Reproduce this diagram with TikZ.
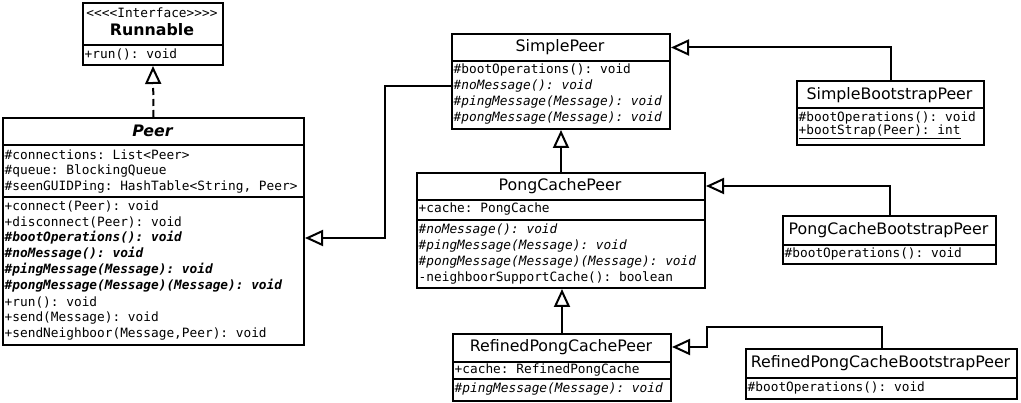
\documentclass[tikz,border=0pt]{standalone}
\usepackage{fontspec}
\setmainfont{DejaVu Sans}
\newfontfamily\umlmono{DejaVu Sans Mono}
\usetikzlibrary{arrows.meta,positioning,calc}

\tikzset{
	classbox/.style={draw,line width=2pt,anchor=north west,inner sep=0pt,fill=white},
	classname/.style={inner sep=0pt,font=\fontsize{15.8}{18}\selectfont},
	member/.style={anchor=west,inner sep=0pt,font=\umlmono\fontsize{12.8}{16}\selectfont},
	divider/.style={line width=2pt},
	inherit/.style={line width=2pt,-{Triangle[open,length=18pt,width=16pt,line width=2pt]}},
	realize/.style={inherit,dash pattern=on 7pt off 4pt}
}

\begin{document}
\begin{tikzpicture}[x=1pt,y=-1pt]
		\useasboundingbox (0,0) rectangle (1021,403);
		% Runnable
		\node[classbox,minimum width=140pt,minimum height=62pt] (runnable) at (82,2) {};
		\node[member,anchor=center] (rnst) at (152,13) {<<<<Interface>>>>};
		\node[classname,font=\fontsize{15.8}{18}\selectfont\bfseries] (rntitle) at (152,30) {Runnable};
		\draw[divider] (runnable.west |- 0,45) -- (runnable.east |- 0,45);
		\node[member] (rn1) at (84.5,54) {+run():\ void};
		% Peer
		\node[classbox,minimum width=301pt,minimum height=227pt] (peer) at (2,117) {};
		\node[classname,font=\fontsize{15.8}{18}\selectfont\bfseries\itshape] (petitle) at (152.5,131) {Peer};
		\draw[divider] (peer.west |- 0,145) -- (peer.east |- 0,145);
		\node[member] (pe1) at (4.5,155) {\#connections:\ List<Peer>};
		\node[member] (pe2) at (4.5,171) {\#queue:\ BlockingQueue};
		\node[member] (pe3) at (4.5,187) {\#seenGUIDPing:\ HashTable<String,\ Peer>};
		\draw[divider] (peer.west |- 0,197) -- (peer.east |- 0,197);
		\node[member] (pe4) at (4.5,206) {+connect(Peer):\ void};
		\node[member] (pe5) at (4.5,222) {+disconnect(Peer):\ void};
		\node[member,font=\umlmono\fontsize{12.8}{16}\selectfont\bfseries\itshape] (pe6) at (4.5,238) {\#bootOperations():\ void};
		\node[member,font=\umlmono\fontsize{12.8}{16}\selectfont\bfseries\itshape] (pe7) at (4.5,254) {\#noMessage():\ void};
		\node[member,font=\umlmono\fontsize{12.8}{16}\selectfont\bfseries\itshape] (pe8) at (4.5,270) {\#pingMessage(Message):\ void};
		\node[member,font=\umlmono\fontsize{12.8}{16}\selectfont\bfseries\itshape] (pe9) at (4.5,286) {\#pongMessage(Message)(Message):\ void};
		\node[member] (pe10) at (4.5,302) {+run():\ void};
		\node[member] (pe11) at (4.5,318) {+send(Message):\ void};
		\node[member] (pe12) at (4.5,334) {+sendNeighboor(Message,Peer):\ void};
		% SimplePeer
		\node[classbox,minimum width=218pt,minimum height=95pt] (simple) at (451,33) {};
		\node[classname] (sptitle) at (560,47.5) {SimplePeer};
		\draw[divider] (simple.west |- 0,61) -- (simple.east |- 0,61);
		\node[member] (sp1) at (453.5,70) {\#bootOperations():\ void};
		\node[member,font=\umlmono\fontsize{12.8}{16}\selectfont\itshape] (sp2) at (453.5,86.5) {\#noMessage():\ void};
		\node[member,font=\umlmono\fontsize{12.8}{16}\selectfont\itshape] (sp3) at (453.5,102.5) {\#pingMessage(Message):\ void};
		\node[member,font=\umlmono\fontsize{12.8}{16}\selectfont\itshape] (sp4) at (453.5,118.5) {\#pongMessage(Message):\ void};
		% PongCachePeer
		\node[classbox,minimum width=288pt,minimum height=115pt] (pongcache) at (416,172) {};
		\node[classname] (pctitle) at (560,186) {PongCachePeer};
		\draw[divider] (pongcache.west |- 0,200) -- (pongcache.east |- 0,200);
		\node[member] (pc1) at (418.5,209.5) {+cache:\ PongCache};
		\draw[divider] (pongcache.west |- 0,220) -- (pongcache.east |- 0,220);
		\node[member,font=\umlmono\fontsize{12.8}{16}\selectfont\itshape] (pc2) at (418.5,230) {\#noMessage():\ void};
		\node[member,font=\umlmono\fontsize{12.8}{16}\selectfont\itshape] (pc3) at (418.5,246) {\#pingMessage(Message):\ void};
		\node[member,font=\umlmono\fontsize{12.8}{16}\selectfont\itshape] (pc4) at (418.5,262) {\#pongMessage(Message)(Message):\ void};
		\node[member] (pc5) at (418.5,278) {-neighboorSupportCache():\ boolean};
		% RefinedPongCachePeer
		\node[classbox,minimum width=218pt,minimum height=67pt] (refined) at (452,333) {};
		\node[classname] (rftitle) at (561,347) {RefinedPongCachePeer};
		\draw[divider] (refined.west |- 0,362) -- (refined.east |- 0,362);
		\node[member] (rf1) at (454.5,370.5) {+cache:\ RefinedPongCache};
		\draw[divider] (refined.west |- 0,379.5) -- (refined.east |- 0,379.5);
		\node[member,font=\umlmono\fontsize{12.8}{16}\selectfont\itshape] (rf2) at (454.5,389.5) {\#pingMessage(Message):\ void};
		% SimpleBootstrapPeer
		\node[classbox,minimum width=187pt,minimum height=64pt] (simpleboot) at (796,80) {};
		\node[classname] (sbtitle) at (889.5,95) {SimpleBootstrapPeer};
		\draw[divider] (simpleboot.west |- 0,108) -- (simpleboot.east |- 0,108);
		\node[member] (sb1) at (798.5,118) {\#bootOperations():\ void};
		\node[member] (sb2) at (798.5,131.5) {\underline{+bootStrap(Peer):\ int}};
		% PongCacheBootstrapPeer
		\node[classbox,minimum width=213pt,minimum height=48pt] (pongboot) at (782,215) {};
		\node[classname] (pbtitle) at (888.5,230) {PongCacheBootstrapPeer};
		\draw[divider] (pongboot.west |- 0,245) -- (pongboot.east |- 0,245);
		\node[member] (pb1) at (784.5,254) {\#bootOperations():\ void};
		% RefinedPongCacheBootstrapPeer
		\node[classbox,minimum width=271pt,minimum height=50pt] (refinedboot) at (745,348) {};
		\node[classname] (rbtitle) at (880.5,363) {RefinedPongCacheBootstrapPeer};
		\draw[divider] (refinedboot.west |- 0,378) -- (refinedboot.east |- 0,378);
		\node[member] (rb1) at (747.5,388) {\#bootOperations():\ void};
		% connectors
		\draw[realize] (peer.north) -- (runnable.south);
		\draw[inherit] (simple.west |- sp2) -- ++(-66,0) |- (peer.east |- pe6);
		\draw[inherit] (pongcache.north) -- (simple.south);
		\draw[inherit] (refined.north) -- (refined.north |- pongcache.south);
		\draw[inherit] (simpleboot.north) |- (simple.east |- sptitle);
		\draw[inherit] (pongboot.north) |- (pongcache.east |- pctitle);
		\draw[inherit] (refinedboot.north) |- (707,327) |- (refined.east |- rftitle);
	\end{tikzpicture}
\end{document}
